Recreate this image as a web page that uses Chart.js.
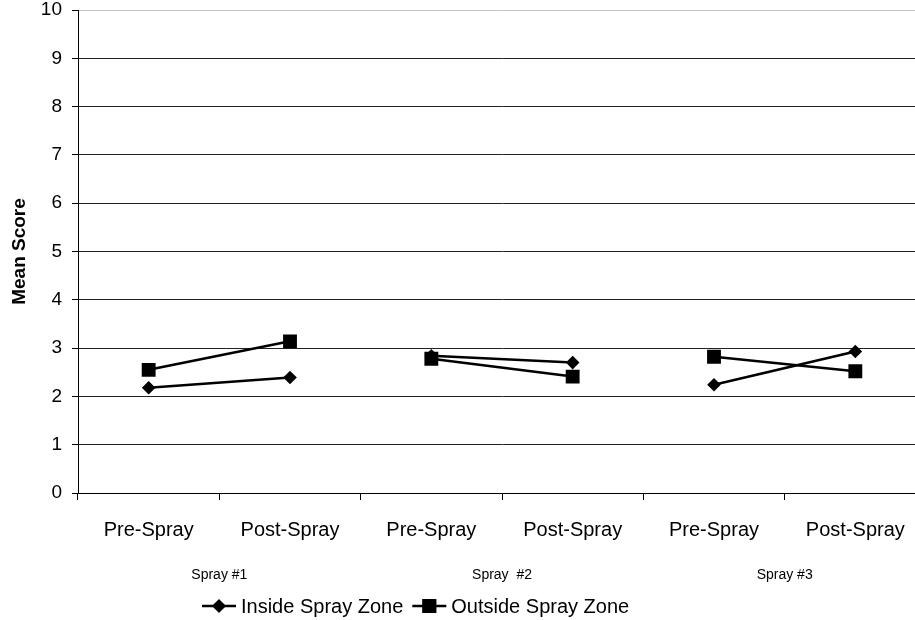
<!DOCTYPE html>
<html lang="en">
<head>
  <meta charset="UTF-8"><meta name="viewport" content="width=device-width">
  <title>Mean Score by Spray</title>
  <script src="https://cdn.jsdelivr.net/npm/chart.js"></script>
  <style>
    html,body{margin:0;padding:0;background:#fff;overflow:hidden;}
    #wrap{width:926px;height:620px;}
    #scoreChart{display:block;width:926px;height:620px;}
  </style>
</head>
<body>
  <div id="wrap"><canvas id="scoreChart" width="926" height="620"></canvas></div>

  <script>
    // data
    const categories = ['Pre-Spray','Post-Spray','Pre-Spray','Post-Spray','Pre-Spray','Post-Spray'];
    const groups = ['Spray #1','Spray  #2','Spray #3'];
    const insideZone = [2.18, 2.39, 2.84, 2.70, 2.24, 2.93];
    const outsideZone = [2.55, 3.14, 2.78, 2.41, 2.82, 2.52];
    const yTicks = [0,1,2,3,4,5,6,7,8,9,10];

    const FONT = '"Liberation Sans", Arial, sans-serif';

    // group labels under the x axis + legend with line and marker
    const extras = {
      id:'extras',
      afterDraw(chart, args, opts){
        const ctx=chart.ctx, x=chart.scales.x;
        ctx.save();
        ctx.fillStyle='#000';
        ctx.textBaseline='middle';
        ctx.textAlign='center';
        ctx.font='14px '+FONT;
        groups.forEach((g,i)=>{
          ctx.fillText(g, x.getPixelForValue(i*2+0.5), opts.groupY);
        });

        // legend
        ctx.font='20px '+FONT;
        ctx.textAlign='left';
        let lx=opts.legendX;
        const ly=opts.legendY;
        chart.data.datasets.forEach(ds=>{
          ctx.strokeStyle='#000';
          ctx.lineWidth=2.5;
          ctx.beginPath();ctx.moveTo(lx,ly);ctx.lineTo(lx+34,ly);ctx.stroke();
          Chart.helpers.drawPoint(ctx,{pointStyle:ds.pointStyle,radius:ds.pointRadius,borderWidth:0},lx+17,ly);
          ctx.fillStyle='#000';
          ctx.fill();
          ctx.fillText(ds.label, lx+39, ly+1);
          lx+=39+ctx.measureText(ds.label).width+9;
        });
        ctx.restore();
      }
    };

    const common = {
      borderColor:'#000', backgroundColor:'#000',
      borderWidth:2.5, pointBorderWidth:0,
      pointBackgroundColor:'#000',
      segment:{ borderColor: c => c.p0DataIndex % 2 === 1 ? 'transparent' : '#000' }
    };

    new Chart(document.getElementById('scoreChart'),{
      type:'line',
      data:{
        labels:categories,
        datasets:[
          Object.assign({label:'Inside Spray Zone',data:insideZone,pointStyle:'rectRot',pointRadius:6.8,pointHoverRadius:6.8},common),
          Object.assign({label:'Outside Spray Zone',data:outsideZone,pointStyle:'rect',pointRadius:9.8,pointHoverRadius:9.8},common)
        ]
      },
      options:{
        responsive:false,
        animation:false,
        layout:{autoPadding:false,padding:{top:10,left:0,right:0,bottom:0}},
        plugins:{
          legend:{display:false},
          tooltip:{enabled:false},
          extras:{groupY:575,legendX:202,legendY:606}
        },
        scales:{
          x:{
            offset:true,
            afterFit(s){ s.height=127; s.paddingLeft=0; s.paddingRight=0; },
            grid:{offset:true,drawOnChartArea:false,drawTicks:true,tickLength:7,color:'#000'},
            border:{color:'#000',width:1},
            ticks:{color:'#000',padding:18,font:{family:FONT,size:20},maxRotation:0,autoSkip:false}
          },
          y:{
            min:0,max:10,
            afterFit(s){ s.width=78; s.paddingTop=0; s.paddingBottom=0; },
            afterBuildTicks(s){ s.ticks=yTicks.map(v=>({value:v})); },
            grid:{
              color:c => c.tick && c.tick.value===10 ? '#c4c4c4' : '#222',
              tickColor:'#000', tickLength:6, lineWidth:1
            },
            border:{color:'#000',width:1},
            ticks:{color:'#000',padding:10,font:{family:FONT,size:19}},
            title:{display:true,text:'Mean Score',color:'#000',
                   font:{family:FONT,size:19,weight:'bold'},padding:{top:8,bottom:0}}
          }
        }
      },
      plugins:[extras]
    });
  </script>
</body>
</html>
